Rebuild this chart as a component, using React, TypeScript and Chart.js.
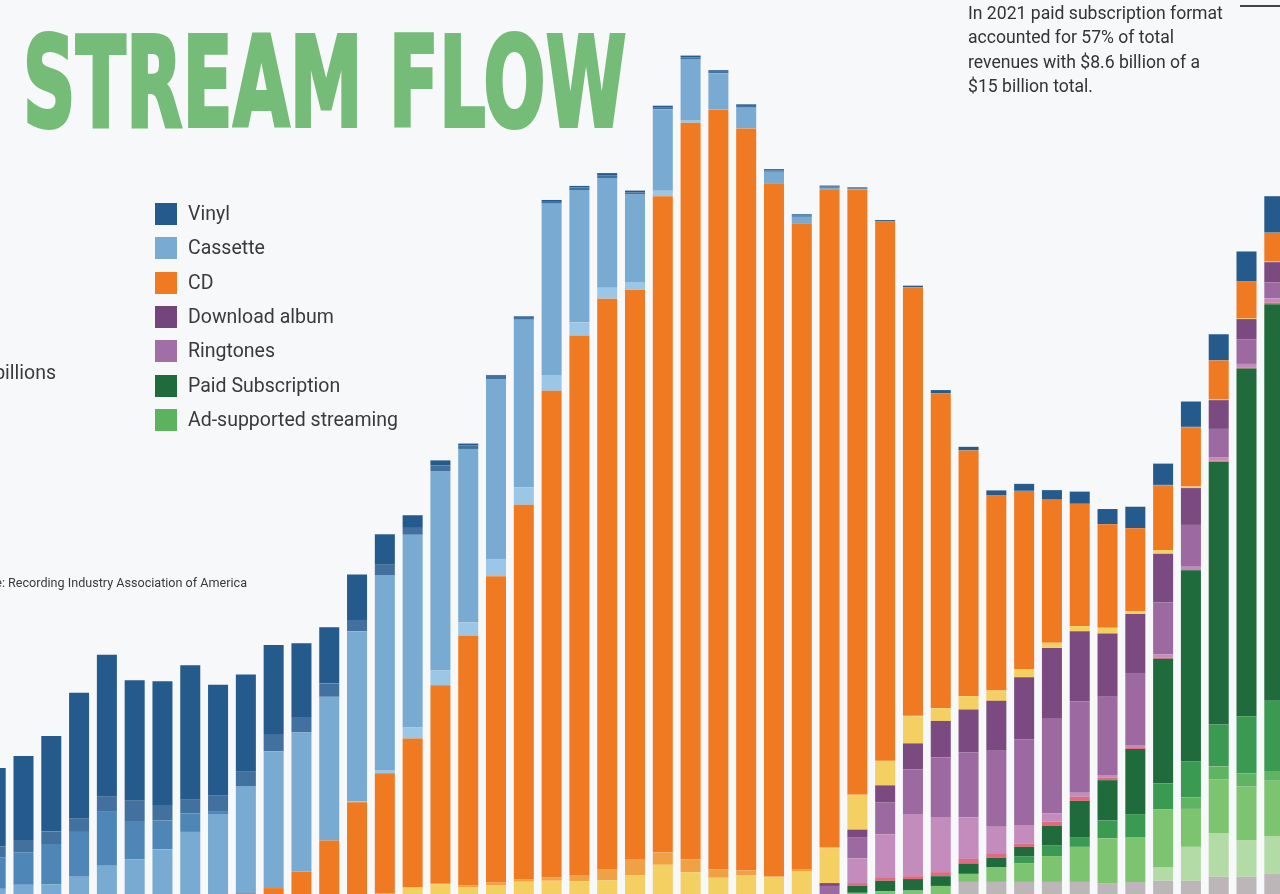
import React, { useEffect, useRef, useState } from "react";
import { Chart, registerables } from "chart.js";

Chart.register(...registerables);

// ---------- categories (years) ----------
const years = [
  "1973", "1974", "1975", "1976", "1977", "1978", "1979", "1980", "1981", "1982",
  "1983", "1984", "1985", "1986", "1987", "1988", "1989", "1990", "1991", "1992",
  "1993", "1994", "1995", "1996", "1997", "1998", "1999", "2000", "2001", "2002",
  "2003", "2004", "2005", "2006", "2007", "2008", "2009", "2010", "2011", "2012",
  "2013", "2014", "2015", "2016", "2017", "2018", "2019", "2020", "2021",
];

// ---------- revenue by format, $ billions (nominal) ----------
const vinylLP = [
  1.25, 1.36, 1.46, 1.66, 2.18, 2.47, 2.1, 2.15, 2.34, 1.92,
  1.69, 1.55, 1.28, 0.98, 0.79, 0.53, 0.22, 0.09, 0.03, 0.014,
  0.011, 0.018, 0.025, 0.037, 0.033, 0.034, 0.032, 0.028, 0.027, 0.021,
  0.022, 0.019, 0.014, 0.016, 0.023, 0.057, 0.061, 0.089, 0.12, 0.164,
  0.21, 0.26, 0.37, 0.37, 0.44, 0.45, 0.52, 0.63, 1.0,
];
const vinylSingle = [
  0.19, 0.19, 0.22, 0.22, 0.24, 0.26, 0.35, 0.27, 0.24, 0.29,
  0.25, 0.3, 0.27, 0.23, 0.2, 0.18, 0.12, 0.094, 0.064, 0.066,
  0.051, 0.047, 0.047, 0.048, 0.036, 0.026, 0.028, 0.026, 0.031, 0.025,
  0.022, 0.02, 0.013, 0.011, 0.004, 0.003, 0.003, 0.002, 0.004, 0.005,
  0.006, 0.006, 0.006, 0.006, 0.006, 0.006, 0.006, 0.007, 0.008,
];
const eightTrack = [
  0.49, 0.55, 0.56, 0.7, 0.78, 0.94, 0.67, 0.5, 0.32, 0.04,
  0, 0, 0, 0, 0, 0, 0, 0, 0, 0,
  0, 0, 0, 0, 0, 0, 0, 0, 0, 0,
  0, 0, 0, 0, 0, 0, 0, 0, 0, 0,
  0, 0, 0, 0, 0, 0, 0, 0, 0,
];
const cassette = [
  0.08, 0.09, 0.16, 0.17, 0.3, 0.49, 0.6, 0.78, 1.08, 1.39,
  1.86, 2.38, 2.42, 2.5, 2.96, 3.39, 3.35, 3.47, 3.02, 3.12,
  2.92, 2.98, 2.3, 1.91, 1.52, 1.42, 1.06, 0.63, 0.36, 0.21,
  0.11, 0.024, 0.013, 0.004, 0, 0, 0, 0, 0, 0,
  0, 0, 0, 0, 0, 0, 0, 0, 0,
];
const cassetteSingle = [
  0, 0, 0, 0, 0, 0, 0, 0, 0, 0,
  0, 0, 0, 0, 0.014, 0.057, 0.195, 0.258, 0.23, 0.299,
  0.299, 0.275, 0.236, 0.189, 0.134, 0.094, 0.048, 0.005, 0, 0,
  0, 0, 0, 0, 0, 0, 0, 0, 0, 0,
  0, 0, 0, 0, 0, 0, 0, 0, 0,
];
const cd = [
  0, 0, 0, 0, 0, 0, 0, 0, 0, 0,
  0.017, 0.103, 0.39, 0.93, 1.594, 2.09, 2.588, 3.452, 4.338, 5.327,
  6.511, 8.465, 9.377, 9.935, 9.915, 11.416, 12.816, 13.215, 12.909, 12.044,
  11.233, 11.447, 10.52, 9.373, 7.452, 5.471, 4.274, 3.389, 3.1, 2.486,
  2.123, 1.8, 1.44, 1.13, 1.03, 0.68, 0.64, 0.5, 0.58,
];
const cdSingle = [
  0, 0, 0, 0, 0, 0, 0, 0, 0, 0,
  0, 0, 0, 0, 0, 0.01, 0, 0.006, 0.035, 0.045,
  0.046, 0.056, 0.111, 0.184, 0.273, 0.213, 0.222, 0.143, 0.079, 0.02,
  0.036, 0.015, 0.011, 0.008, 0.012, 0.004, 0, 0, 0, 0,
  0, 0, 0, 0, 0, 0, 0, 0, 0,
];
const musicVideo = [
  0, 0, 0, 0, 0, 0, 0, 0, 0, 0,
  0, 0, 0, 0, 0, 0, 0.115, 0.172, 0.118, 0.157,
  0.213, 0.231, 0.22, 0.236, 0.324, 0.508, 0.377, 0.282, 0.329, 0.288,
  0.4, 0.607, 0.6, 0.42, 0.47, 0.22, 0.23, 0.18, 0.14, 0.09,
  0.09, 0.1, 0.05, 0.06, 0.03, 0.01, 0.01, 0.01, 0.01,
];
const downloadAlbum = [
  0, 0, 0, 0, 0, 0, 0, 0, 0, 0,
  0, 0, 0, 0, 0, 0, 0, 0, 0, 0,
  0, 0, 0, 0, 0, 0, 0, 0, 0, 0,
  0, 0.05, 0.13, 0.3, 0.45, 0.63, 0.75, 0.87, 1.08, 1.22,
  1.22, 1.1, 1.04, 0.85, 0.64, 0.5, 0.35, 0.35, 0.32,
];
const downloadSingle = [
  0, 0, 0, 0, 0, 0, 0, 0, 0, 0,
  0, 0, 0, 0, 0, 0, 0, 0, 0, 0,
  0, 0, 0, 0, 0, 0, 0, 0, 0, 0,
  0, 0.14, 0.37, 0.55, 0.78, 1.04, 1.13, 1.32, 1.49, 1.66,
  1.59, 1.36, 1.25, 0.9, 0.73, 0.49, 0.43, 0.28, 0.29,
];
const ringtones = [
  0, 0, 0, 0, 0, 0, 0, 0, 0, 0,
  0, 0, 0, 0, 0, 0, 0, 0, 0, 0,
  0, 0, 0, 0, 0, 0, 0, 0, 0, 0,
  0, 0, 0.43, 0.76, 1.08, 0.96, 0.72, 0.46, 0.32, 0.14,
  0.07, 0.05, 0.04, 0.06, 0.04, 0.06, 0.06, 0.07, 0.04,
];
const otherDigital = [
  0, 0, 0, 0, 0, 0, 0, 0, 0, 0,
  0, 0, 0, 0, 0, 0, 0, 0, 0, 0,
  0, 0, 0, 0, 0, 0, 0, 0, 0, 0,
  0, 0, 0.05, 0.05, 0.05, 0.07, 0.08, 0.08, 0.06, 0.07,
  0.07, 0.04, 0.02, 0.02, 0.02, 0.02, 0.02, 0.03, 0.03,
];
const paidSubscription = [
  0, 0, 0, 0, 0, 0, 0, 0, 0, 0,
  0, 0, 0, 0, 0, 0, 0, 0, 0, 0,
  0, 0, 0, 0, 0, 0, 0, 0, 0, 0,
  0, 0, 0.12, 0.18, 0.2, 0.17, 0.18, 0.16, 0.17, 0.34,
  0.63, 0.7, 1.13, 2.17, 3.32, 4.57, 6.05, 6.9, 8.56,
];
const adOnDemand = [
  0, 0, 0, 0, 0, 0, 0, 0, 0, 0,
  0, 0, 0, 0, 0, 0, 0, 0, 0, 0,
  0, 0, 0, 0, 0, 0, 0, 0, 0, 0,
  0, 0, 0, 0, 0, 0, 0, 0, 0.12, 0.19,
  0.17, 0.31, 0.4, 0.45, 0.63, 0.73, 0.99, 1.22, 1.8,
];
const adOther = [
  0, 0, 0, 0, 0, 0, 0, 0, 0, 0,
  0, 0, 0, 0, 0, 0, 0, 0, 0, 0,
  0, 0, 0, 0, 0, 0, 0, 0, 0, 0,
  0, 0, 0, 0, 0, 0, 0, 0, 0, 0,
  0, 0, 0, 0, 0.2, 0.23, 0.23, 0.17, 0.3,
];
const soundExchange = [
  0, 0, 0, 0, 0, 0, 0, 0, 0, 0,
  0, 0, 0, 0, 0, 0, 0, 0, 0, 0,
  0, 0, 0, 0, 0, 0, 0, 0, 0, 0,
  0, 0, 0.02, 0.05, 0.06, 0.14, 0.14, 0.26, 0.32, 0.45,
  0.61, 0.78, 0.78, 1.0, 0.66, 0.93, 0.94, 0.96, 0.99,
];
const limitedTier = [
  0, 0, 0, 0, 0, 0, 0, 0, 0, 0,
  0, 0, 0, 0, 0, 0, 0, 0, 0, 0,
  0, 0, 0, 0, 0, 0, 0, 0, 0, 0,
  0, 0, 0, 0, 0, 0, 0, 0, 0, 0,
  0, 0, 0, 0.24, 0.59, 0.76, 0.63, 0.66, 0.9,
];
const synchronization = [
  0, 0, 0, 0, 0, 0, 0, 0, 0, 0,
  0, 0, 0, 0, 0, 0, 0, 0, 0, 0,
  0, 0, 0, 0, 0, 0, 0, 0, 0, 0,
  0, 0, 0, 0, 0, 0, 0.21, 0.21, 0.21, 0.21,
  0.21, 0.19, 0.21, 0.23, 0.23, 0.3, 0.3, 0.35, 0.38,
];

// ---------- legend ----------
const legendLabels = [
  "Vinyl",
  "Cassette",
  "CD",
  "Download album",
  "Ringtones",
  "Paid Subscription",
  "Ad-supported streaming",
];
const legendColors = ["#255a8c", "#79aad1", "#f07a22", "#74447c", "#9f6fa5", "#1f6b3c", "#5cb25e"];

const annotationLines = [
  "In 2021 paid subscription format",
  "accounted for 57% of total",
  "revenues with $8.6 billion of a",
  "$15 billion total.",
];

const BG = "#f7f8fa";
const FONT = "Roboto, 'Noto Sans', sans-serif";

// stacking order: first = bottom
const stackSeries = [
  { label: "Synchronization", data: synchronization, color: "#bcb6b9" },
  { label: "Limited tier paid subscription", data: limitedTier, color: "#b3dba5" },
  { label: "SoundExchange distributions", data: soundExchange, color: "#7cc46f" },
  { label: "Other ad-supported streaming", data: adOther, color: "#5fb463" },
  { label: "On-demand streaming (ad-supported)", data: adOnDemand, color: "#3a9a52" },
  { label: "Paid subscription", data: paidSubscription, color: "#1f6b3c" },
  { label: "Other digital", data: otherDigital, color: "#e4697e" },
  { label: "Ringtones & ringbacks", data: ringtones, color: "#c48bbd" },
  { label: "Download single", data: downloadSingle, color: "#9c6aa0" },
  { label: "Download album", data: downloadAlbum, color: "#7a4a80" },
  { label: "Music video", data: musicVideo, color: "#f4cf62" },
  { label: "CD single", data: cdSingle, color: "#f0a145" },
  { label: "CD", data: cd, color: "#f07a22" },
  { label: "Cassette single", data: cassetteSingle, color: "#9cc6e5" },
  { label: "Cassette", data: cassette, color: "#79aad1" },
  { label: "8-track", data: eightTrack, color: "#4f86b8" },
  { label: "Vinyl single", data: vinylSingle, color: "#42709f" },
  { label: "LP/EP", data: vinylLP, color: "#255a8c" },
];

export default function App() {
  const canvasRef = useRef<HTMLCanvasElement | null>(null);
  const titleRef = useRef<HTMLDivElement | null>(null);
  const [titleScale, setTitleScale] = useState(0.66);

  useEffect(() => {
    const canvas = canvasRef.current;
    if (!canvas) return;
    const chart = new Chart(canvas, {
      type: "bar",
      data: {
        labels: years,
        datasets: stackSeries.map((s) => ({
          label: s.label,
          data: s.data,
          backgroundColor: s.color,
          borderWidth: 0,
          categoryPercentage: 1,
          barPercentage: 0.72,
        })),
      },
      options: {
        animation: false,
        responsive: true,
        maintainAspectRatio: false,
        devicePixelRatio: 1,
        layout: { padding: 0 },
        plugins: {
          legend: { display: false },
          tooltip: { enabled: false },
        },
        scales: {
          x: { stacked: true, display: false, offset: true, grid: { display: false } },
          y: { stacked: true, display: false, min: 0, max: 15.55, grid: { display: false } },
        },
      },
    });
    return () => chart.destroy();
  }, []);

  useEffect(() => {
    let alive = true;
    const measure = () => {
      const el = titleRef.current;
      if (!el || !alive) return;
      const w = el.offsetWidth;
      if (w > 0) setTitleScale(604 / w);
    };
    measure();
    const fonts = (document as any).fonts;
    if (fonts && fonts.ready) fonts.ready.then(measure);
    return () => {
      alive = false;
    };
  }, []);

  return (
    <div
      style={{
        position: "fixed",
        left: 0,
        top: 0,
        width: 1280,
        height: 894,
        overflow: "hidden",
        background: BG,
        fontFamily: FONT,
      }}
    >
      <div style={{ position: "absolute", left: -46, top: 0, width: 1362, height: 894 }}>
        <canvas ref={canvasRef} />
      </div>

      {/* Title */}
      <div
        ref={titleRef}
        style={{
          position: "absolute",
          left: 23,
          top: 21,
          fontFamily: "'DejaVu Sans Condensed', 'DejaVu Sans', sans-serif",
          fontStretch: "condensed",
          fontWeight: 700,
          fontSize: 124,
          lineHeight: "124px",
          color: "#76bc79",
          WebkitTextStroke: "4px #76bc79",
          whiteSpace: "nowrap",
          transform: `scaleX(${titleScale})`,
          transformOrigin: "left top",
          letterSpacing: 1,
        }}
      >
        STREAM FLOW
      </div>

      {/* Annotation */}
      <div
        style={{
          position: "absolute",
          left: 968,
          top: 1,
          fontSize: 17.6,
          lineHeight: "24.3px",
          color: "#333",
          whiteSpace: "nowrap",
        }}
      >
        {annotationLines.map((l) => (
          <div key={l}>{l}</div>
        ))}
      </div>
      <div
        style={{
          position: "absolute",
          left: 1240,
          top: 5,
          width: 40,
          height: 1.5,
          background: "#444",
        }}
      />

      {/* Unit label (clipped on the left as in the reference) */}
      <div
        style={{
          position: "absolute",
          right: 1280 - 56,
          top: 361,
          fontSize: 19.5,
          lineHeight: "24px",
          color: "#3a3a3a",
          whiteSpace: "nowrap",
        }}
      >
        in billions
      </div>

      {/* Source */}
      <div
        style={{
          position: "absolute",
          right: 1280 - 247,
          top: 575,
          fontSize: 12.6,
          lineHeight: "15px",
          color: "#3a3a3a",
          whiteSpace: "nowrap",
        }}
      >
        Source: Recording Industry Association of America
      </div>

      {/* Legend */}
      {legendLabels.map((lab, i) => (
        <div
          key={lab}
          style={{
            position: "absolute",
            left: 155,
            top: 203 + i * 34.3,
            height: 22,
            display: "flex",
            alignItems: "center",
            whiteSpace: "nowrap",
          }}
        >
          <div style={{ width: 22, height: 22, background: legendColors[i] }} />
          <div style={{ marginLeft: 11, fontSize: 19.5, color: "#3a3a3a", lineHeight: "22px" }}>{lab}</div>
        </div>
      ))}
    </div>
  );
}
